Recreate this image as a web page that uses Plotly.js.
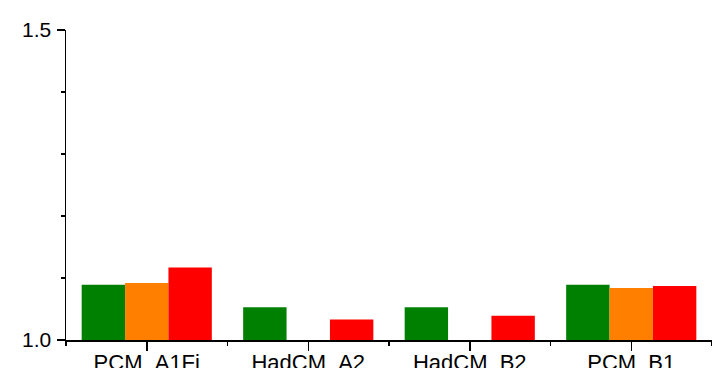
<!DOCTYPE html>
<html>
<head>
<meta charset="utf-8">
<script src="https://cdn.plot.ly/plotly-3.0.1.min.js"></script>
<style>html,body{margin:0;padding:0;background:#fff;}#chart{width:712px;height:368px;}</style>
</head>
<body>
<div id="chart"></div>
<script>
const categories = ["PCM_A1Fi", "HadCM_A2", "HadCM_B2", "PCM_B1"];
const seriesGreen = [1.089, 1.053, 1.053, 1.089];
const seriesOrange = [1.092, null, null, 1.084];
const seriesRed = [1.117, 1.033, 1.039, 1.087];
const colors = ["#008000", "#ff8000", "#ff0000"];

const xIdx = categories.map((_, i) => i);
const data = [seriesGreen, seriesOrange, seriesRed].map((vals, k) => ({
  type: "bar",
  x: xIdx,
  y: vals,
  marker: { color: colors[k], line: { width: 0 } },
  showlegend: false,
  hoverinfo: "none"
}));

const yfont = { family: "Liberation Sans, Arial, sans-serif", size: 21, color: "#000" };
const xfont = { family: "Liberation Sans, Arial, sans-serif", size: 22, color: "#000" };
const layout = {
  width: 712, height: 368,
  margin: { l: 66, r: 0, t: 30, b: 28, pad: 0 },
  paper_bgcolor: "#fff", plot_bgcolor: "#fff",
  barmode: "group", bargap: 0.194, bargroupgap: 0,
  font: yfont,
  xaxis: {
    type: "linear", range: [-0.5, 3.5],
    tickmode: "array", tickvals: xIdx, ticktext: categories,
    ticks: "outside", ticklen: 9, tickwidth: 1.5, tickcolor: "#000",
    ticklabelstandoff: -7,
    minor: { tickmode: "array", tickvals: [-0.5, 0.5, 1.5, 2.5, 3.5], ticks: "outside", ticklen: 4, tickwidth: 1.5, tickcolor: "#000", showgrid: false },
    showline: true, linecolor: "#000", linewidth: 1.5,
    showgrid: false, zeroline: false, tickfont: xfont
  },
  yaxis: {
    range: [1, 1.5],
    tickmode: "array", tickvals: [1.0, 1.5], ticktext: ["1.0", "1.5"],
    ticks: "outside", ticklen: 8, tickwidth: 1.5, tickcolor: "#000",
    ticklabelstandoff: 1,
    minor: { tickmode: "array", tickvals: [1.1, 1.2, 1.3, 1.4], ticks: "outside", ticklen: 4, tickwidth: 1.5, tickcolor: "#000", showgrid: false },
    showline: true, linecolor: "#000", linewidth: 1.5,
    showgrid: false, zeroline: false, tickfont: yfont
  }
};
Plotly.newPlot("chart", data, layout, { staticPlot: true, displayModeBar: false });
</script>
</body>
</html>
